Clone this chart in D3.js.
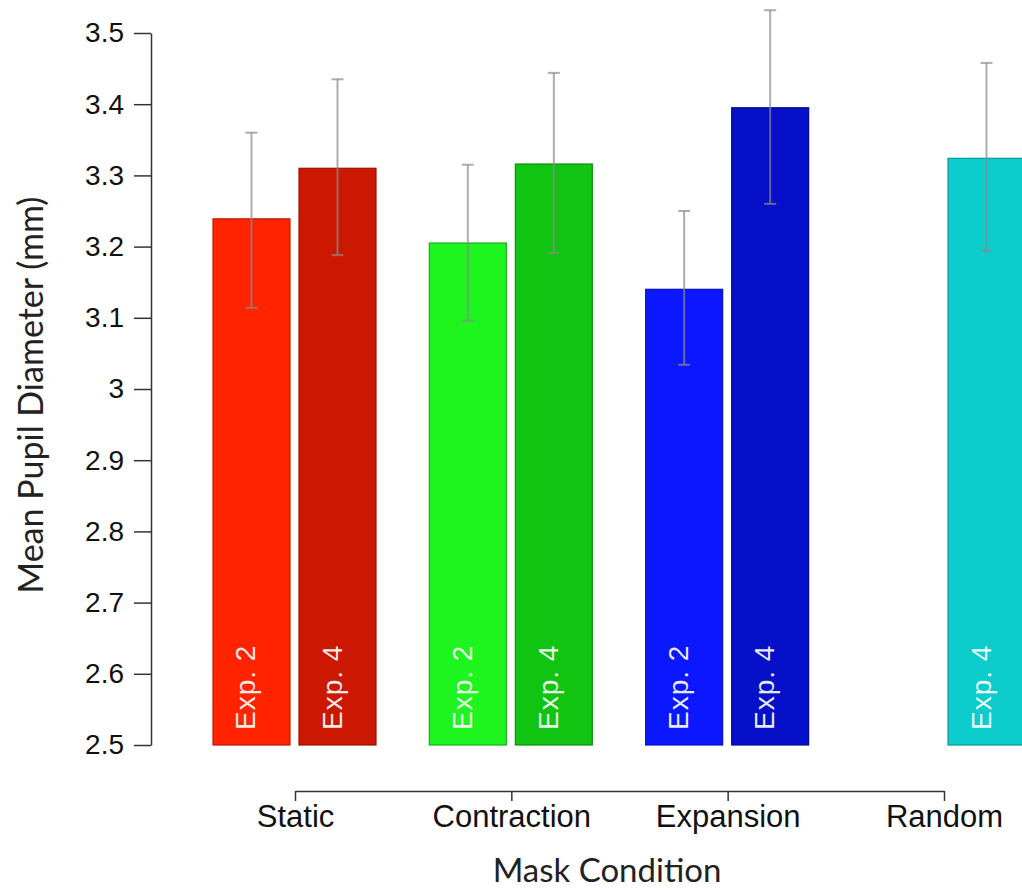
<!DOCTYPE html>
<html>
<head>
<meta charset="utf-8">
<script src="https://cdn.jsdelivr.net/npm/d3@7"></script>
<style>
  body { margin: 0; background: #fff; }
  svg { display: block; }
  .tick text { font-family: "Liberation Sans", Arial, sans-serif; fill: #111; }
  .axis path, .axis line { stroke: #333; stroke-width: 1.5; }
</style>
</head>
<body>
<div id="chart"></div>
<script>
// chart values
var conditions = ["Static", "Contraction", "Expansion", "Random"];
var experiments = ["Exp. 2", "Exp. 4"];
var barCondition = ["Static", "Static", "Contraction", "Contraction", "Expansion", "Expansion", "Random"];
var barExperiment = ["Exp. 2", "Exp. 4", "Exp. 2", "Exp. 4", "Exp. 2", "Exp. 4", "Exp. 4"];
var meanDiameter = [3.239, 3.310, 3.205, 3.316, 3.140, 3.395, 3.324];
var errLower = [3.114, 3.188, 3.096, 3.191, 3.034, 3.260, 3.194];
var errUpper = [3.360, 3.435, 3.315, 3.444, 3.250, 3.532, 3.458];
var yTicks = [2.5, 2.6, 2.7, 2.8, 2.9, 3, 3.1, 3.2, 3.3, 3.4, 3.5];

var barColors = ["#ff2300", "#cc1800", "#1ef51e", "#12c412", "#0a17ff", "#0510c8", "#0ccccc"];
var barStrokes = ["#c01a00", "#9a1200", "#15b015", "#0c900c", "#0710c0", "#030a90", "#089a9a"];

var width = 1022, height = 890;

var svg = d3.select("#chart").append("svg")
    .attr("width", width)
    .attr("height", height);

var y = d3.scaleLinear().domain([2.5, 3.5]).range([745, 33]);
var x = d3.scalePoint().domain(conditions).range([295, 944]);
var xSub = d3.scaleBand().domain(experiments).range([-82, 81]).paddingInner(0.105);

var bars = barCondition.map(function(c, i) {
    return {cond: c, exp: barExperiment[i], mean: meanDiameter[i], lo: errLower[i], hi: errUpper[i], i: i};
});

// bars
svg.append("g").selectAll("rect")
    .data(bars)
    .join("rect")
    .attr("x", function(d) { return x(d.cond) + xSub(d.exp); })
    .attr("y", function(d) { return y(d.mean); })
    .attr("width", xSub.bandwidth())
    .attr("height", function(d) { return y(2.5) - y(d.mean); })
    .attr("fill", function(d) { return barColors[d.i]; })
    .attr("stroke", function(d) { return barStrokes[d.i]; })
    .attr("stroke-width", 1.2);

// labels inside bars
svg.append("g").selectAll("text")
    .data(bars)
    .join("text")
    .attr("transform", function(d) {
        var cx = x(d.cond) + xSub(d.exp) + xSub.bandwidth() / 2 + 4;
        return "translate(" + cx + "," + (y(2.5) - 15) + ") rotate(-90)";
    })
    .style("font-family", "'Liberation Sans', Arial, sans-serif")
    .style("font-size", "28px")
    .style("letter-spacing", "1px")
    .attr("fill", "#fff")
    .attr("fill-opacity", 0.92)
    .text(function(d) { return d.exp; });

// error bars
var err = svg.append("g")
    .attr("stroke", "#8a8a8a")
    .attr("stroke-opacity", 0.7)
    .attr("stroke-width", 2);

bars.forEach(function(d) {
    var cx = x(d.cond) + xSub(d.exp) + xSub.bandwidth() / 2;
    err.append("line").attr("x1", cx).attr("x2", cx).attr("y1", y(d.lo)).attr("y2", y(d.hi));
    err.append("line").attr("x1", cx - 6).attr("x2", cx + 6).attr("y1", y(d.hi)).attr("y2", y(d.hi));
    err.append("line").attr("x1", cx - 6).attr("x2", cx + 6).attr("y1", y(d.lo)).attr("y2", y(d.lo));
});

// y axis
var yAxis = svg.append("g")
    .attr("class", "axis")
    .attr("transform", "translate(151,0)")
    .call(d3.axisLeft(y).tickValues(yTicks).tickFormat(d3.format("~g")).tickSize(17).tickSizeOuter(0).tickPadding(10));
yAxis.selectAll(".tick text").style("font-size", "28px");

// x axis
var xAxis = svg.append("g")
    .attr("class", "axis")
    .attr("transform", "translate(0,791)")
    .call(d3.axisBottom(x).tickSize(10).tickSizeOuter(0).tickPadding(4));
xAxis.selectAll(".tick text").style("font-size", "31px");

// axis titles
svg.append("text")
    .attr("transform", "translate(43,395) rotate(-90)")
    .attr("text-anchor", "middle")
    .style("font-family", "Lato, 'Open Sans', sans-serif")
    .style("font-size", "34px")
    .attr("fill", "#222")
    .text("Mean Pupil Diameter (mm)");

svg.append("text")
    .attr("x", 607)
    .attr("y", 882)
    .attr("text-anchor", "middle")
    .style("font-family", "Lato, 'Open Sans', sans-serif")
    .style("font-size", "33px")
    .attr("fill", "#222")
    .text("Mask Condition");
</script>
</body>
</html>
